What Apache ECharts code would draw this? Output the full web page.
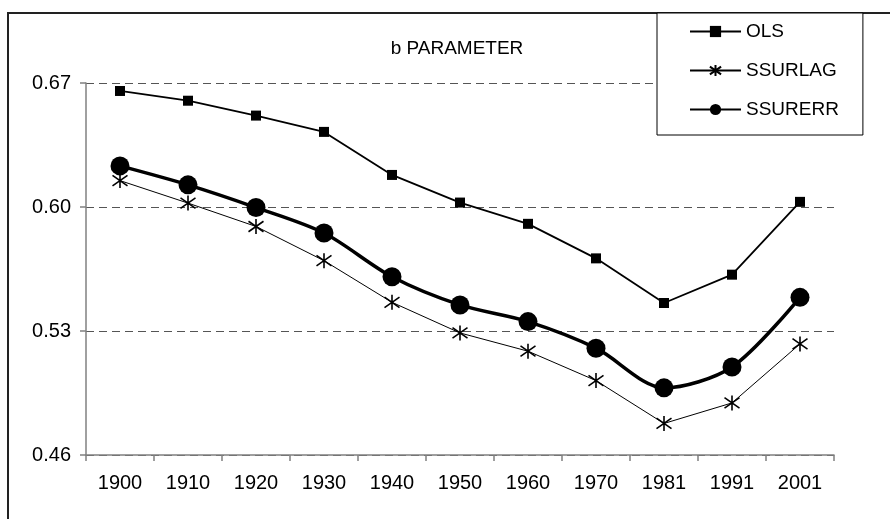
<!DOCTYPE html>
<html>
<head>
<meta charset="utf-8">
<script src="https://cdn.jsdelivr.net/npm/echarts@6/dist/echarts.min.js"></script>
<style>
html,body{margin:0;padding:0;background:#fff;}
#chart{width:890px;height:519px;}
</style>
</head>
<body>
<div id="chart"></div>
<script>
var years = ['1900','1910','1920','1930','1940','1950','1960','1970','1981','1991','2001'];
var olsValues = [0.6655, 0.6600, 0.6516, 0.6424, 0.6181, 0.6025, 0.5905, 0.5710, 0.5458, 0.5618, 0.6029];
var ssurlagValues = [0.6149, 0.6022, 0.5890, 0.5697, 0.5462, 0.5289, 0.5186, 0.5020, 0.4778, 0.4894, 0.5227];
var ssurerrValues = [0.6232, 0.6125, 0.5997, 0.5853, 0.5606, 0.5447, 0.5353, 0.5203, 0.4979, 0.5097, 0.5490];
var yMin = 0.46, yMax = 0.67, yStep = 0.07;

var FONT = 'Liberation Sans, Arial, sans-serif';
var asterisk = 'path://M10,0L10,20M2,3L18,17M2,17L18,3';

var chart = echarts.init(document.getElementById('chart'), null, {renderer: 'canvas'});
chart.setOption({
  animation: false,
  backgroundColor: '#fff',
  title: {
    text: 'b PARAMETER',
    left: 452, top: 34,
    textAlign: 'center',
    textStyle: {fontFamily: FONT, fontSize: 19, fontWeight: 'normal', color: '#000'}
  },
  graphic: [{
    type: 'rect', z: -1, silent: true,
    shape: {x: 8, y: 13, width: 900, height: 530},
    style: {fill: 'none', stroke: '#222', lineWidth: 2}
  }],
  legend: {
    orient: 'vertical',
    left: 657, top: 13,
    backgroundColor: '#fff',
    borderColor: '#000', borderWidth: 1,
    padding: [9, 24, 16, 32],
    itemWidth: 51, itemHeight: 14, itemGap: 20,
    textStyle: {fontFamily: FONT, fontSize: 19, color: '#000'},
    data: ['OLS', 'SSURLAG', 'SSURERR'],
    z: 10
  },
  grid: {left: 86, right: 56, top: 83, bottom: 64, containLabel: false},
  xAxis: {
    type: 'category',
    data: years,
    boundaryGap: true,
    axisLine: {lineStyle: {color: '#808080', width: 1.5}},
    axisTick: {show: true, interval: 0, length: 6, lineStyle: {color: '#808080', width: 1.5}},
    axisLabel: {fontFamily: FONT, fontSize: 20, color: '#000', margin: 18, interval: 0},
    splitLine: {show: false}
  },
  yAxis: {
    type: 'value',
    min: yMin, max: yMax, interval: yStep,
    axisLine: {show: true, lineStyle: {color: '#808080', width: 1.5}},
    axisTick: {show: true, length: 6, lineStyle: {color: '#808080', width: 1.5}},
    axisLabel: {fontFamily: FONT, fontSize: 20, color: '#000', margin: 15,
      formatter: function (v) { return v.toFixed(2); }},
    splitLine: {show: true, lineStyle: {color: '#555', type: [8, 5], width: 1.2}}
  },
  series: [
    {
      name: 'OLS', type: 'line', data: olsValues,
      color: '#000',
      symbol: 'rect', symbolSize: 10,
      lineStyle: {color: '#000', width: 1.8},
      itemStyle: {color: '#000'},
      z: 3
    },
    {
      name: 'SSURLAG', type: 'line', data: ssurlagValues,
      color: '#000',
      symbol: asterisk, symbolSize: 15,
      lineStyle: {color: '#000', width: 1},
      itemStyle: {color: '#000', borderColor: '#000', borderWidth: 1.6},
      z: 3
    },
    {
      name: 'SSURERR', type: 'line', data: ssurerrValues,
      color: '#000',
      smooth: 0.3,
      symbol: 'circle', symbolSize: 19,
      lineStyle: {color: '#000', width: 3.5},
      itemStyle: {color: '#000'},
      z: 4
    }
  ]
});
</script>
</body>
</html>
